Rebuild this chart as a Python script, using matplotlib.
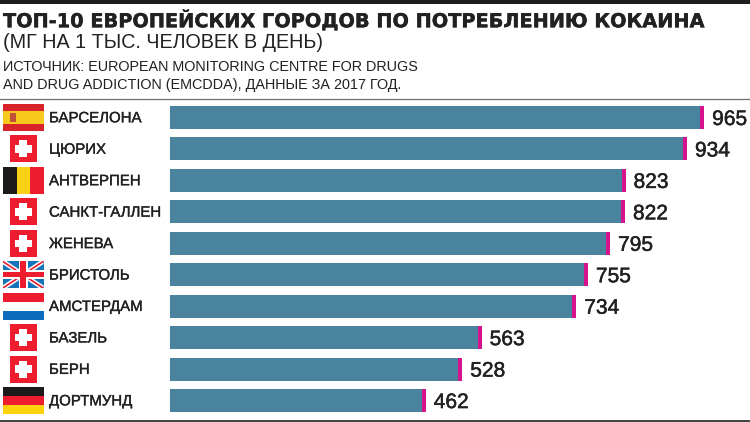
import matplotlib
matplotlib.use("Agg")
import matplotlib.pyplot as plt
from matplotlib.patches import Rectangle, Polygon
import matplotlib.patheffects as pe

cities = ["БАРСЕЛОНА", "ЦЮРИХ", "АНТВЕРПЕН", "САНКТ-ГАЛЛЕН", "ЖЕНЕВА",
          "БРИСТОЛЬ", "АМСТЕРДАМ", "БАЗЕЛЬ", "БЕРН", "ДОРТМУНД"]
values = [965, 934, 823, 822, 795, 755, 734, 563, 528, 462]
flags = ["es", "ch", "be", "ch", "ch", "uk", "nl", "ch", "ch", "de"]
title = "ТОП-10 ЕВРОПЕЙСКИХ ГОРОДОВ ПО ПОТРЕБЛЕНИЮ КОКАИНА"
subtitle = "(МГ НА 1 ТЫС. ЧЕЛОВЕК В ДЕНЬ)"
source = ["ИСТОЧНИК: EUROPEAN MONITORING CENTRE FOR DRUGS",
          "AND DRUG ADDICTION (EMCDDA), ДАННЫЕ ЗА 2017 ГОД."]

W, H = 750, 422
BAR = "#4a839d"; TIP = "#d6128c"; INK = "#232021"
RED = "#ed1c2e"
fig = plt.figure(figsize=(7.5, 4.22), dpi=100, facecolor="white")

# overlay in pixel coordinates
ov = fig.add_axes([0, 0, 1, 1]); ov.set_xlim(0, W); ov.set_ylim(H, 0); ov.axis("off")

# bars
k = 0.5535; y0 = 117.5; dy = 31.45
ax = fig.add_axes([170 / W, 0, 580 / W, 1], zorder=2)
ax.patch.set_alpha(0)
ax.set_xlim(0, 580 / k)
ax.set_ylim((H - y0) / dy, -y0 / dy)
ax.axis("off")
tip = 7
pos = list(range(len(cities)))
ax.barh(pos, [v - tip for v in values], height=0.73, color=BAR, linewidth=0)
ax.barh(pos, [tip] * len(values), left=[v - tip for v in values], height=0.73, color=TIP, linewidth=0)
for i, v in zip(pos, values):
    ax.annotate(str(v), (v, i), xytext=(8, 0), textcoords="offset pixels", va="center_baseline", ha="left",
                fontsize=15.1, family="Liberation Sans", color=INK,
                path_effects=[pe.withStroke(linewidth=0.35, foreground=INK)])

# chrome
ov.add_patch(Rectangle((0, 0), W, 3.8, color="#1e1c1c", lw=0))
ov.plot([0, W], [99.3, 99.3], color="#6f6f6f", lw=0.9)
ov.plot([0, W], [420.5, 420.5], color="#333333", lw=1.3)

ov.text(3, 20.5, title, fontsize=13.9, fontweight="bold", family="DejaVu Sans", color=INK, va="center",
        path_effects=[pe.withStroke(linewidth=0.3, foreground=INK)])
ov.text(3, 43, subtitle, fontsize=14.2, family="Liberation Sans", color=INK, va="center")
ov.text(3, 67, source[0], fontsize=10.38, family="Liberation Sans", color=INK, va="center")
ov.text(3, 85.5, source[1], fontsize=10.38, family="Liberation Sans", color=INK, va="center")


def rect(x, y, w, h, c):
    ov.add_patch(Rectangle((x, y), w, h, facecolor=c, edgecolor="none", lw=0))


def draw_flag(kind, cy):
    x, w = 2.5, 41
    t, h = cy - 13.5, 27
    if kind == "ch":
        rect(9.5, t, 27, h, RED)
        rect(19.2, cy - 8.5, 7.6, 17, "white")
        rect(14.5, cy - 3.8, 17, 7.6, "white")
    elif kind == "es":
        rect(x, t, w, h, "#d8232a")
        rect(x, t + 7, w, 13, "#f7c81e")
        rect(9.5, cy - 5, 6.5, 9.5, "#c0503a")
    elif kind == "be":
        rect(x, t, 14, h, "#1c1a1a"); rect(x + 14, t, 13.5, h, "#fbd116"); rect(x + 27.5, t, 13.5, h, RED)
    elif kind == "de":
        rect(x, t, w, 9, "#1c1a1a"); rect(x, t + 9, w, 9, RED); rect(x, t + 18, w, 9, "#fdd20a")
    elif kind == "nl":
        rect(x, t, w, 9, RED); rect(x, t + 18, w, 9, "#0a6cbb")
    elif kind == "uk":
        rect(x, t, w, h, "#1573b9")
        r = x + w; b = t + h
        clip = Rectangle((x, t), w, h, transform=ov.transData)
        for a, c in [((x, t), (r, b)), ((x, b), (r, t))]:
            for d, col in [(2.8, "white"), (1.0, RED)]:
                p = Polygon([(a[0], a[1] - d), (a[0], a[1] + d), (c[0], c[1] + d), (c[0], c[1] - d)],
                            facecolor=col, edgecolor="none")
                ov.add_patch(p)
                p.set_clip_path(clip)
        rect(x, cy - 4.5, w, 9, "white"); rect(x + w / 2 - 4.5, t, 9, h, "white")
        rect(x, cy - 2.6, w, 5.2, RED); rect(x + w / 2 - 2.6, t, 5.2, h, RED)


for i, (name, fl) in enumerate(zip(cities, flags)):
    cy = y0 + dy * i
    draw_flag(fl, cy)
    ov.text(49, cy + 0.8, name, fontsize=10.8, family="Liberation Sans", color=INK, va="center",
            path_effects=[pe.withStroke(linewidth=0.25, foreground=INK)])

fig.savefig("out.png", dpi=100)
